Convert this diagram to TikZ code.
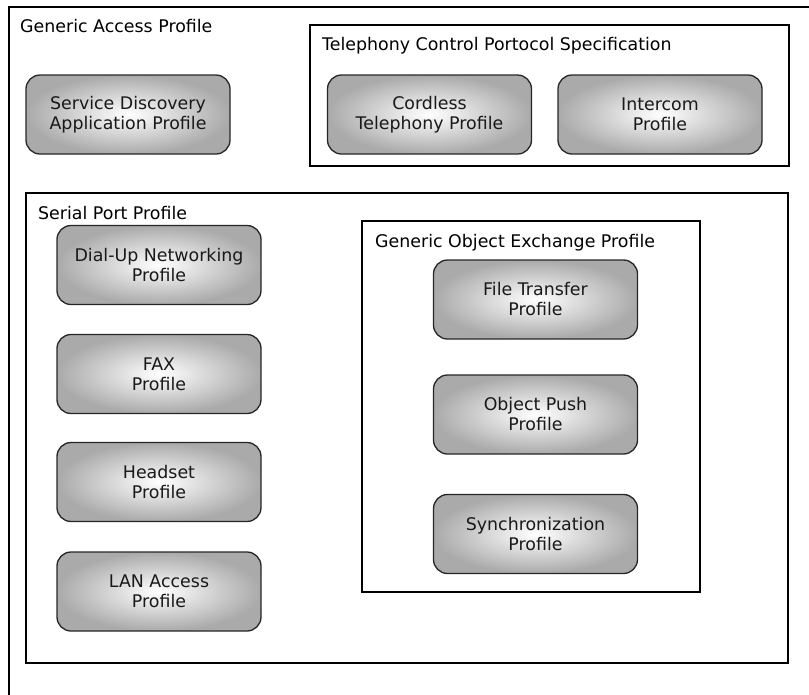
\documentclass[tikz,border=0pt]{standalone}
\usepackage{fontspec}
\setmainfont{DejaVu Sans}
\definecolor{edgegray}{RGB}{170,170,170}
\definecolor{textdark}{RGB}{25,25,25}
\tikzset{
  frame/.style={draw=black, line width=1.8pt},
  frametitle/.style={anchor=base west, inner sep=0pt, text=black,
    font=\fontsize{17.4}{20}\selectfont},
  profile/.style={draw=black!85, line width=1.3pt, rounded corners=14pt,
    minimum width=204pt, minimum height=79pt, inner sep=0pt,
    inner color=white, outer color=edgegray, align=center, text=textdark,
    font=\fontsize{17.4}{20}\selectfont},
}
\begin{document}
\begin{tikzpicture}[x=1pt,y=-1pt]
  \path[use as bounding box, clip] (0,0) rectangle (809,694);

  % outer frame, running off the page to the right and bottom
  \draw[frame] (840,7) -- (9,7) -- (9,720);
  \node[frametitle] (gap) at (20,32) {Generic Access Profile};

  % telephony control group
  \draw[frame] (310,25) rectangle (789,166);
  \node[frametitle] (tcs) at (322,50) {Telephony Control Portocol Specification};

  % serial port group
  \draw[frame] (26,193) rectangle (788,663);
  \node[frametitle] (spp) at (38,219) {Serial Port Profile};

  % object exchange group
  \draw[frame] (362,221) rectangle (700,592);
  \node[frametitle] (goep) at (375,247) {Generic Object Exchange Profile};

  % profiles
  \node[profile] (sdap) at (128,114.5) {Service Discovery\\Application Profile};
  \node[profile] (ctp) at (429.5,114.5) {Cordless\\Telephony Profile};
  \node[profile] (icp) at (660,114.5) {Intercom\\Profile};

  \node[profile] (dun) at (159,265) {Dial-Up Networking\\Profile};
  \node[profile] (fax) at (159,374) {FAX\\Profile};
  \node[profile] (hsp) at (159,482) {Headset\\Profile};
  \node[profile] (lap) at (159,591.5) {LAN Access\\Profile};

  \node[profile] (ftp) at (535.5,299.5) {File Transfer\\Profile};
  \node[profile] (opp) at (535.5,414.5) {Object Push\\Profile};
  \node[profile] (sync) at (535.5,534) {Synchronization\\Profile};
\end{tikzpicture}
\end{document}
